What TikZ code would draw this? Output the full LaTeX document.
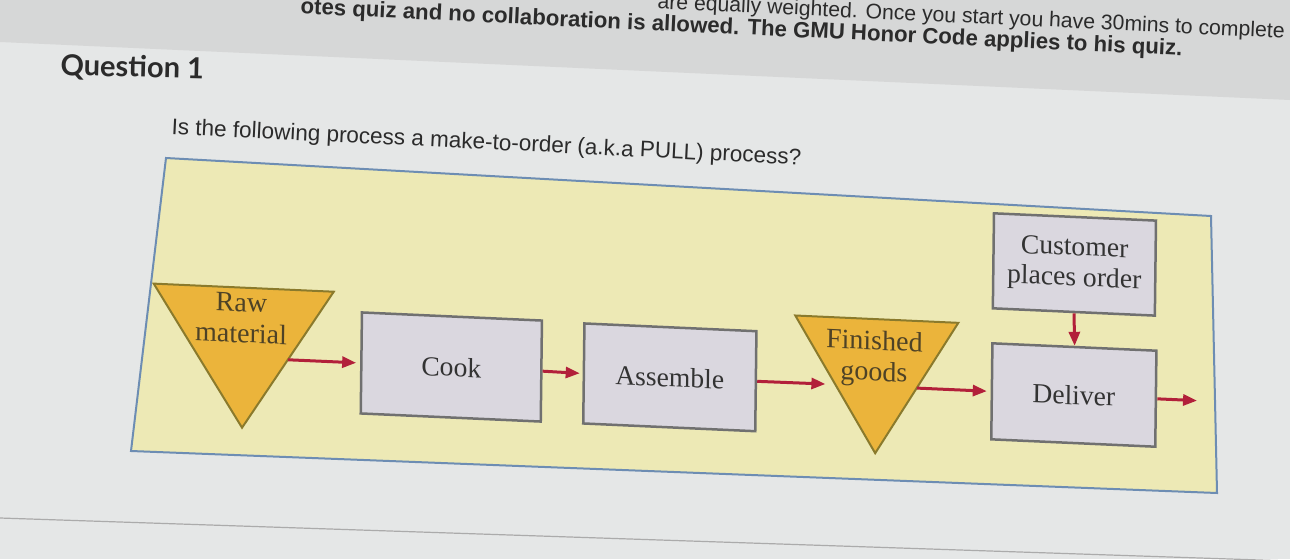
\documentclass[tikz,border=0pt]{standalone}
\usepackage{fontspec}
\setmainfont{Liberation Serif}
\newfontfamily\uisans{Liberation Sans}
\newfontfamily\latof{Lato}
\usetikzlibrary{arrows.meta,calc}
\definecolor{bgc}{HTML}{E5E7E7}
\definecolor{bandc}{HTML}{D6D7D7}
\definecolor{rulec}{HTML}{ABABAB}
\definecolor{panelfill}{HTML}{EDE9B5}
\definecolor{paneldraw}{HTML}{6D8DB3}
\definecolor{boxfill}{HTML}{DAD7DF}
\definecolor{boxdraw}{HTML}{707070}
\definecolor{trifill}{HTML}{EBB43B}
\definecolor{tridraw}{HTML}{8A7A2C}
\definecolor{arrc}{HTML}{B2203A}
\definecolor{boxtext}{HTML}{333333}
\definecolor{tritext}{HTML}{4E4226}
\definecolor{uitext}{HTML}{2B2B2B}
\tikzset{
  procbox/.style={draw=boxdraw, fill=boxfill, line width=1.25pt, inner sep=0pt,
    align=center, text=boxtext, font=\fontsize{13.8}{15.2}\selectfont},
  trizone/.style={draw=none, inner sep=0pt, outer sep=0pt},
  tri/.style={draw=tridraw, fill=trifill, line width=1pt, line join=miter},
  trilabel/.style={align=center, inner sep=0pt, text=tritext, font=\fontsize{14}{15.5}\selectfont},
  arr/.style={draw=arrc, line width=1.5pt, -{Triangle[length=7pt,width=5.5pt]}},
  uitxt/.style={anchor=base west, inner sep=0pt, text=uitext}
}
\begin{document}
\begin{tikzpicture}[x=0.5pt,y=0.5pt]
\useasboundingbox (0,0) rectangle (1290,559);
\clip (0,0) rectangle (1290,559);
% screen background
\fill[bgc] (0,0) rectangle (1290,559);
\fill[bandc] (0,559) -- (1290,559) -- (1290,459) -- (0,517) -- cycle;
\draw[rulec, line width=0.6pt] (0,41) -- (1290,-2);
% header texts
\node[uitxt, rotate=-2.7, font=\uisans\fontsize{10.6}{12}\selectfont] (hdra) at (657,550.5)
  {are equally weighted. Once you start you have 30mins to complete it};
\node[uitxt, rotate=-2.7, font=\uisans\bfseries\fontsize{11.1}{13}\selectfont] (hdrb) at (300,545.2)
  {otes quiz and no collaboration is allowed. The GMU Honor Code applies to his quiz.};
\node[uitxt, rotate=-1.5, font=\latof\bfseries\fontsize{14.5}{16}\selectfont] (qtitle) at (60,484) {Question 1};
\node[uitxt, rotate=-2.8, font=\uisans\fontsize{11.25}{13}\selectfont] (qtext) at (171,425)
  {Is the following process a make-to-order (a.k.a PULL) process?};
% panel
\draw[fill=panelfill, draw=paneldraw, line width=1pt] (166,401) -- (1211,343) -- (1217,66) -- (131,108) -- cycle;
% diagram
\begin{scope}[cm={1,-0.045,0.012,1,(0,559)}, transform shape]
  \node[procbox, minimum width=90pt, minimum height=50.5pt] (cook) at (455.5,-346.5) {Cook};
  \node[procbox, minimum width=86pt, minimum height=50pt] (asm) at (674,-347) {Assemble};
  \node[procbox, minimum width=81pt, minimum height=47.5pt] (cust) at (1077,-216) {Customer\\places order};
  \node[procbox, minimum width=82pt, minimum height=48pt] (del) at (1078,-346.5) {Deliver};
  \node[trizone, minimum width=90pt, minimum height=70pt] (raw) at (247,-346.5) {};
  \draw[tri] (raw.north west) -- (raw.north east) -- (raw.south) -- cycle;
  \node[trilabel] (rawtxt) at (245,-307) {Raw\\material};
  \node[trizone, minimum width=81.5pt, minimum height=67pt] (fin) at (880,-346.5) {};
  \draw[tri] (fin.north west) -- (fin.north east) -- (fin.south) -- cycle;
  \node[trilabel] (fintxt) at (878,-319) {Finished\\goods};
  \coordinate (rawR) at ($(raw.north east)!0.5!(raw.south)$);
  \coordinate (finL) at ($(fin.north west)!0.5!(fin.south)$);
  \coordinate (finR) at ($(fin.north east)!0.5!(fin.south)$);
  \coordinate (out) at (1201,-346.5);
  \draw[arr, shorten >=2pt] (rawR) -- (cook.west);
  \draw[arr, shorten >=1.5pt] (cook.east) -- (asm.west);
  \draw[arr, shorten >=5pt] (asm.east) -- (finL);
  \draw[arr, shorten >=2pt] (finR) -- (del.west);
  \draw[arr] (cust.south) -- (del.north);
  \draw[arr] (del.east) -- (out);
\end{scope}
\end{tikzpicture}
\end{document}
